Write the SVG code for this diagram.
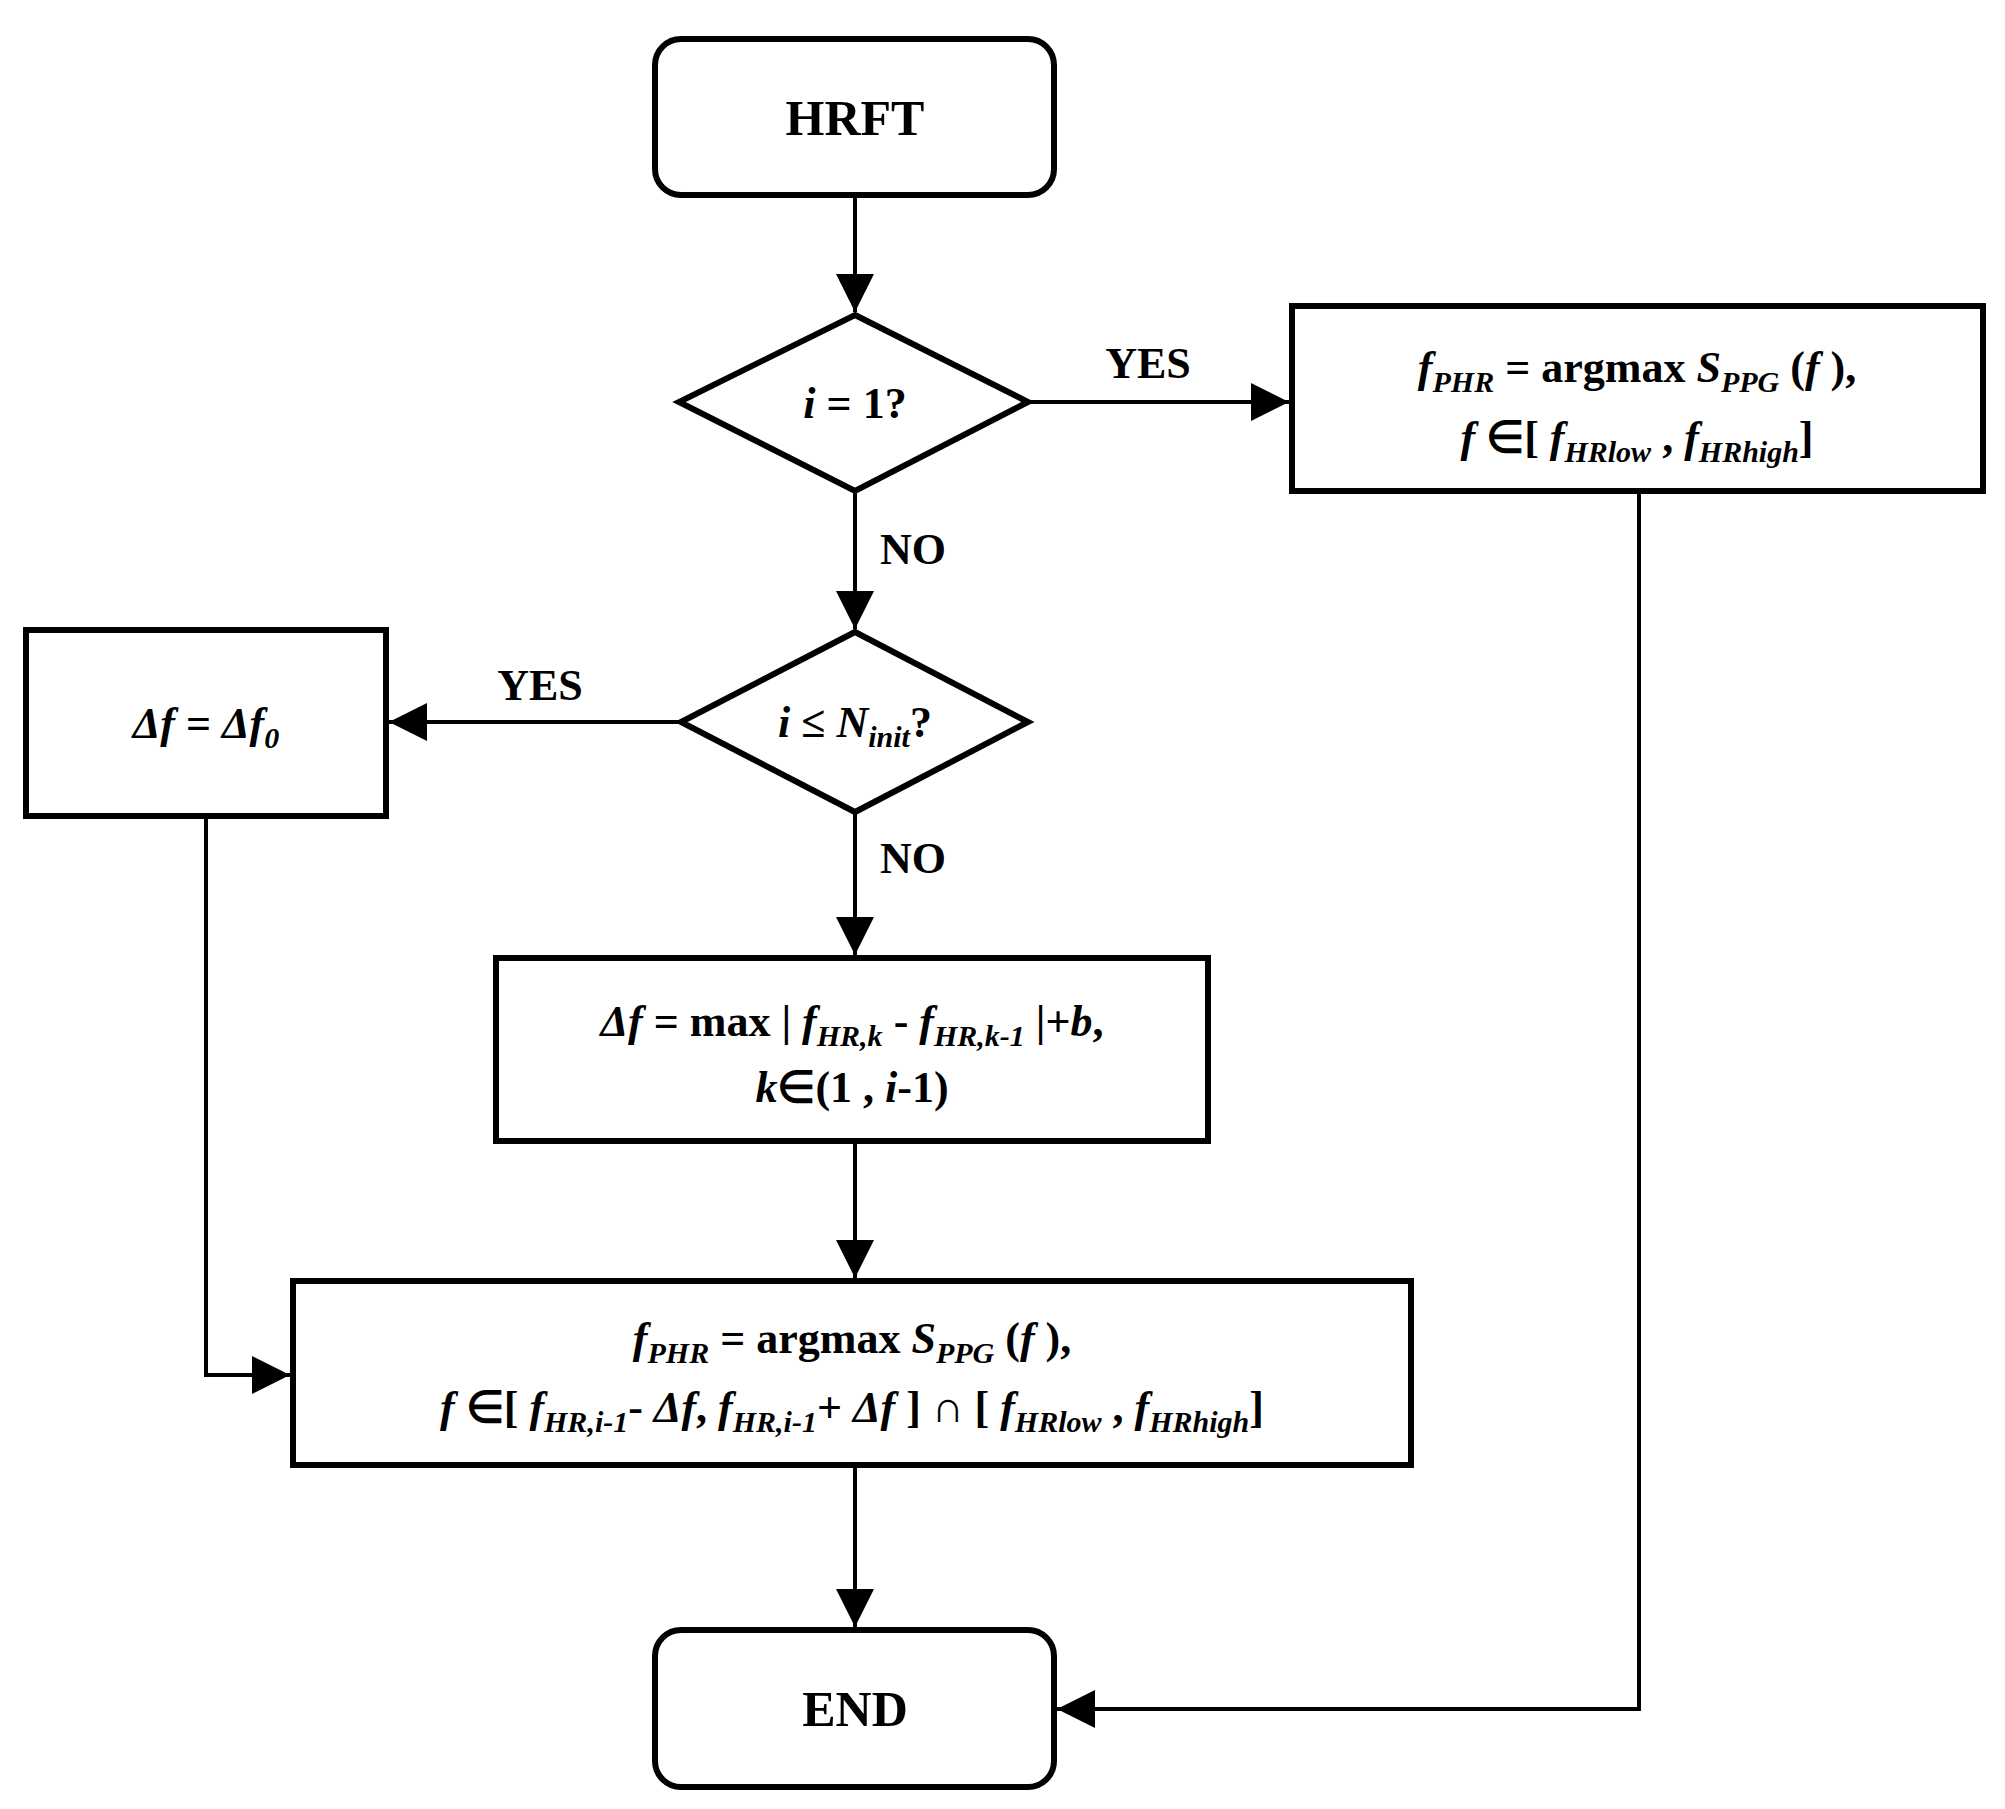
<svg xmlns="http://www.w3.org/2000/svg" width="2005" height="1809" viewBox="0 0 2005 1809">
<style>
.b{fill:#fff;stroke:#000;stroke-width:6}
.l{fill:none;stroke:#000;stroke-width:4}
text{font-family:"Liberation Serif","Times New Roman",serif;font-weight:bold;fill:#000;text-anchor:middle}
.t{font-size:50px}
.f{font-size:44px}
.s{font-size:30px;font-style:italic}
.i{font-style:italic}
</style>
<defs><marker id="a" markerWidth="10" markerHeight="10" refX="9" refY="5" orient="auto" markerUnits="userSpaceOnUse" viewBox="0 0 10 10"><path d="M0,0 L10,5 L0,10 z" fill="#000"/></marker>
<marker id="A" viewBox="0 0 10 10" refX="10" refY="5" markerWidth="38" markerHeight="38" markerUnits="userSpaceOnUse" orient="auto"><path d="M0,0 L10,5 L0,10 z" fill="#000"/></marker></defs>
<rect width="2005" height="1809" fill="#fff"/>
<g id="connectors">
<line class="l" x1="855" y1="195" x2="855" y2="312" marker-end="url(#A)"/>
<line class="l" x1="1028" y1="402" x2="1289" y2="402" marker-end="url(#A)"/>
<line class="l" x1="855" y1="491" x2="855" y2="629" marker-end="url(#A)"/>
<line class="l" x1="681" y1="722" x2="389" y2="722" marker-end="url(#A)"/>
<line class="l" x1="855" y1="812" x2="855" y2="955" marker-end="url(#A)"/>
<line class="l" x1="855" y1="1141" x2="855" y2="1278" marker-end="url(#A)"/>
<line class="l" x1="855" y1="1465" x2="855" y2="1627" marker-end="url(#A)"/>
<polyline class="l" points="206,816 206,1375 290,1375" marker-end="url(#A)"/>
<polyline class="l" points="1639,491 1639,1709 1057,1709" marker-end="url(#A)"/>
<text class="f" x="1148" y="378">YES</text>
<text class="f" x="913" y="564">NO</text>
<text class="f" x="540" y="700">YES</text>
<text class="f" x="913" y="873">NO</text>
</g>
<g id="start"><rect class="b" x="655" y="39" width="399" height="156" rx="26"/><text class="t" x="855" y="135">HRFT</text></g>
<g id="d1"><polygon class="b" points="855,315 1028,402 855,491 679,402"/><text class="f" x="855" y="418"><tspan class="i">i</tspan> = 1?</text></g>
<g id="yes1box"><rect class="b" x="1292" y="306" width="691" height="185"/>
<text class="f" x="1637" y="382"><tspan class="i">f</tspan><tspan class="s" dy="10">PHR</tspan><tspan dy="-10"> = argmax </tspan><tspan class="i">S</tspan><tspan class="s" dy="10">PPG</tspan><tspan dy="-10"> (</tspan><tspan class="i">f</tspan> ),</text>
<text class="f" x="1637" y="452"><tspan class="i">f</tspan> ∈[ <tspan class="i">f</tspan><tspan class="s" dy="10">HRlow</tspan><tspan dy="-10"> , </tspan><tspan class="i">f</tspan><tspan class="s" dy="10">HRhigh</tspan><tspan dy="-10">]</tspan></text></g>
<g id="d2"><polygon class="b" points="855,632 1028,722 855,812 681,722"/><text class="f" x="855" y="737"><tspan class="i">i</tspan> ≤ <tspan class="i">N</tspan><tspan class="s" dy="10">init</tspan><tspan dy="-10">?</tspan></text></g>
<g id="df0"><rect class="b" x="26" y="630" width="360" height="186"/><text class="f" x="206" y="738"><tspan class="i">Δf</tspan> = <tspan class="i">Δf</tspan><tspan class="s" dy="10">0</tspan></text></g>
<g id="dfmax"><rect class="b" x="496" y="958" width="712" height="183"/>
<text class="f" x="852" y="1036"><tspan class="i">Δf</tspan> = max | <tspan class="i">f</tspan><tspan class="s" dy="10">HR,k</tspan><tspan dy="-10"> - </tspan><tspan class="i">f</tspan><tspan class="s" dy="10">HR,k-1</tspan><tspan dy="-10"> |+</tspan><tspan class="i">b</tspan>,</text>
<text class="f" x="852" y="1102"><tspan class="i">k</tspan>∈(1 ,  <tspan class="i">i</tspan>-1)</text></g>
<g id="final"><rect class="b" x="293" y="1281" width="1118" height="184"/>
<text class="f" x="852" y="1353"><tspan class="i">f</tspan><tspan class="s" dy="10">PHR</tspan><tspan dy="-10"> = argmax </tspan><tspan class="i">S</tspan><tspan class="s" dy="10">PPG</tspan><tspan dy="-10"> (</tspan><tspan class="i">f</tspan> ),</text>
<text class="f" x="852" y="1422"><tspan class="i">f</tspan> ∈[ <tspan class="i">f</tspan><tspan class="s" dy="10">HR,i-1</tspan><tspan dy="-10">- </tspan><tspan class="i">Δf</tspan>, <tspan class="i">f</tspan><tspan class="s" dy="10">HR,i-1</tspan><tspan dy="-10">+ </tspan><tspan class="i">Δf</tspan> ] ∩ [ <tspan class="i">f</tspan><tspan class="s" dy="10">HRlow</tspan><tspan dy="-10"> , </tspan><tspan class="i">f</tspan><tspan class="s" dy="10">HRhigh</tspan><tspan dy="-10">]</tspan></text></g>
<g id="end"><rect class="b" x="655" y="1630" width="399" height="157" rx="26"/><text class="t" x="855" y="1726">END</text></g>
</svg>
